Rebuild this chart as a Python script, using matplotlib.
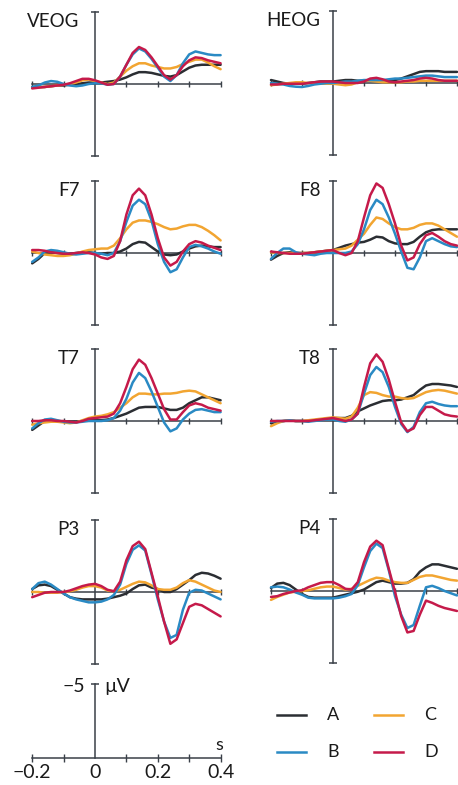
import numpy as np
import matplotlib.pyplot as plt

plt.rcParams['font.family'] = ['Lato', 'DejaVu Sans']

# time grid (s) and ERP amplitudes (µV, negative plotted upwards)
t = np.round(np.arange(-0.2, 0.4001, 0.02), 2)

conditions = ["A", "B", "C", "D"]
colors = {"A": "#2b2e33", "B": "#2a8ac4", "C": "#f2a531", "D": "#c51a4a"}

VEOG = {
    "A": [0.2, 0.2, 0.2, 0.15, 0.1, 0.1, 0.05, 0.0, -0.05, -0.1, -0.1, -0.1, -0.15, -0.2, -0.3, -0.45,
          -0.65, -0.8, -0.8, -0.75, -0.65, -0.55, -0.5, -0.6, -0.85, -1.1, -1.25, -1.3, -1.3, -1.3, -1.3],
    "B": [0.2, 0.1, -0.1, -0.2, -0.15, 0.0, 0.1, 0.15, 0.1, 0.0, -0.05, -0.05, 0.05, 0.0, -0.5, -1.3,
          -2.0, -2.4, -2.2, -1.7, -1.1, -0.5, -0.2, -0.6, -1.4, -2.0, -2.2, -2.1, -2.0, -1.95, -1.95],
    "C": [0.25, 0.22, 0.2, 0.15, 0.1, 0.05, 0.0, -0.1, -0.25, -0.3, -0.2, -0.1, 0.0, -0.1, -0.5, -0.9,
          -1.2, -1.4, -1.4, -1.25, -1.15, -1.05, -1.05, -1.15, -1.35, -1.5, -1.65, -1.65, -1.45, -1.2, -1.0],
    "D": [0.3, 0.25, 0.2, 0.15, 0.1, 0.05, -0.05, -0.2, -0.35, -0.35, -0.25, -0.1, 0.05, 0.0, -0.5, -1.3,
          -2.1, -2.5, -2.3, -1.8, -1.2, -0.6, -0.3, -0.6, -1.2, -1.6, -1.8, -1.75, -1.6, -1.5, -1.4],
}
HEOG = {
    "A": [-0.2, -0.1, 0.0, 0.05, 0.05, 0.05, 0.0, -0.05, -0.1, -0.1, -0.1, -0.15, -0.2, -0.2, -0.15, -0.15,
          -0.2, -0.2, -0.15, -0.15, -0.2, -0.3, -0.45, -0.6, -0.75, -0.8, -0.8, -0.8, -0.75, -0.75, -0.75],
    "B": [0.0, 0.05, 0.1, 0.2, 0.25, 0.27, 0.2, 0.1, 0.05, 0.0, 0.0, -0.05, -0.1, -0.1, -0.15, -0.2,
          -0.2, -0.2, -0.2, -0.25, -0.3, -0.3, -0.35, -0.4, -0.45, -0.5, -0.5, -0.45, -0.4, -0.4, -0.4],
    "C": [0.15, 0.1, 0.05, 0.0, -0.05, -0.05, 0.0, 0.0, 0.05, 0.05, 0.05, 0.1, 0.15, 0.1, -0.05, -0.15,
          -0.15, -0.1, -0.05, -0.05, -0.05, -0.05, -0.1, -0.1, -0.15, -0.15, -0.15, -0.15, -0.15, -0.15, -0.15],
    "D": [0.1, 0.1, 0.05, 0.05, 0.05, 0.05, 0.0, -0.05, -0.1, -0.1, -0.1, -0.05, 0.0, 0.0, 0.0, -0.1,
          -0.3, -0.35, -0.25, -0.1, -0.05, -0.1, -0.15, -0.2, -0.3, -0.35, -0.3, -0.2, -0.15, -0.15, -0.15],
}
F7 = {
    "A": [0.7, 0.4, 0.0, -0.05, 0.0, 0.05, 0.05, 0.0, -0.05, -0.05, 0.0, 0.05, 0.0, 0.0, -0.1, -0.3,
          -0.6, -0.75, -0.7, -0.4, -0.1, 0.1, 0.15, 0.1, -0.1, -0.3, -0.45, -0.5, -0.45, -0.4, -0.4],
    "B": [0.6, 0.3, -0.1, -0.2, -0.15, -0.05, 0.05, 0.1, 0.05, 0.0, 0.0, 0.05, 0.15, 0.0, -0.8, -2.1,
          -3.2, -3.6, -3.3, -2.2, -0.6, 0.6, 1.3, 1.1, 0.3, -0.4, -0.55, -0.45, -0.3, -0.1, 0.05],
    "C": [-0.1, 0.0, 0.1, 0.15, 0.2, 0.2, 0.15, 0.05, -0.1, -0.2, -0.25, -0.3, -0.3, -0.5, -1.0, -1.6,
          -2.05, -2.2, -2.2, -2.1, -1.95, -1.75, -1.6, -1.65, -1.8, -1.9, -1.9, -1.75, -1.5, -1.2, -0.85],
    "D": [-0.2, -0.2, -0.15, -0.05, 0.0, 0.05, 0.05, 0.0, -0.05, 0.0, 0.1, 0.3, 0.4, 0.2, -0.8, -2.6,
          -3.9, -4.35, -3.9, -2.6, -1.0, 0.3, 0.85, 0.6, -0.1, -0.6, -0.8, -0.7, -0.5, -0.35, -0.2],
}
F8 = {
    "A": [0.45, 0.2, 0.0, -0.05, 0.0, 0.0, 0.0, -0.05, -0.1, -0.15, -0.2, -0.35, -0.5, -0.6, -0.7, -0.75,
          -0.9, -1.1, -1.05, -0.8, -0.65, -0.6, -0.6, -0.75, -1.1, -1.4, -1.55, -1.6, -1.6, -1.6, -1.6],
    "B": [0.4, 0.0, -0.3, -0.3, -0.05, 0.05, 0.1, 0.15, 0.05, 0.0, 0.0, 0.0, 0.0, -0.1, -0.6, -1.6,
          -2.9, -3.6, -3.3, -2.4, -1.3, -0.1, 1.0, 1.1, 0.3, -0.8, -1.0, -0.8, -0.6, -0.45, -0.4],
    "C": [-0.05, 0.0, 0.0, 0.0, 0.0, 0.0, 0.0, -0.05, -0.1, -0.15, -0.2, -0.25, -0.3, -0.5, -0.9, -1.3,
          -1.9, -2.4, -2.3, -2.0, -1.75, -1.6, -1.6, -1.7, -1.9, -2.0, -2.0, -1.85, -1.6, -1.35, -1.1],
    "D": [-0.1, -0.05, 0.0, 0.05, 0.05, 0.05, 0.0, -0.05, -0.1, -0.15, -0.2, 0.0, 0.15, 0.0, -0.8, -2.4,
          -3.9, -4.7, -4.4, -3.3, -2.0, -0.5, 0.5, 0.3, -0.6, -1.2, -1.35, -1.1, -0.8, -0.6, -0.5],
}
T7 = {
    "A": [0.6, 0.3, 0.0, -0.05, 0.0, 0.05, 0.05, 0.05, 0.0, -0.05, -0.05, -0.05, -0.1, -0.2, -0.35, -0.5,
          -0.7, -0.9, -0.95, -0.95, -0.95, -0.85, -0.75, -0.75, -0.9, -1.2, -1.4, -1.6, -1.6, -1.5, -1.4],
    "B": [0.5, 0.15, -0.1, -0.15, -0.05, 0.05, 0.1, 0.1, 0.05, 0.0, 0.0, 0.0, -0.05, -0.2, -0.7, -1.5,
          -2.6, -3.25, -2.9, -2.0, -0.95, 0.1, 0.7, 0.5, -0.1, -0.5, -0.75, -0.8, -0.7, -0.6, -0.6],
    "C": [0.25, 0.15, 0.1, 0.05, 0.05, 0.1, 0.15, 0.1, -0.05, -0.2, -0.3, -0.35, -0.45, -0.6, -0.9, -1.2,
          -1.6, -1.85, -1.85, -1.8, -1.8, -1.85, -1.85, -1.9, -2.0, -2.05, -2.0, -1.8, -1.6, -1.4, -1.2],
    "D": [0.0, 0.0, -0.05, -0.05, 0.0, 0.0, 0.05, 0.1, 0.0, -0.15, -0.2, -0.25, -0.3, -0.5, -1.2, -2.3,
          -3.5, -4.15, -3.8, -2.9, -1.85, -0.8, -0.1, -0.1, -0.6, -1.05, -1.2, -1.1, -0.9, -0.8, -0.7],
}
T8 = {
    "A": [0.15, 0.05, 0.0, -0.05, 0.0, 0.0, 0.0, -0.05, -0.1, -0.15, -0.2, -0.2, -0.2, -0.35, -0.65, -0.85,
          -1.05, -1.2, -1.35, -1.4, -1.4, -1.45, -1.6, -1.75, -2.1, -2.4, -2.5, -2.5, -2.45, -2.4, -2.3],
    "B": [0.05, 0.0, 0.0, -0.05, 0.0, 0.0, 0.05, 0.0, -0.05, -0.1, -0.1, 0.0, 0.05, -0.1, -0.5, -1.85,
          -3.1, -3.65, -3.3, -2.3, -0.95, 0.2, 0.75, 0.4, -0.6, -1.2, -1.3, -1.15, -1.05, -1.0, -1.0],
    "C": [0.35, 0.15, 0.0, -0.05, 0.0, 0.0, -0.05, -0.1, -0.15, -0.2, -0.25, -0.2, -0.15, -0.3, -0.9, -1.75,
          -1.95, -1.9, -1.75, -1.65, -1.65, -1.55, -1.5, -1.55, -1.75, -1.95, -2.05, -2.1, -2.05, -1.95, -1.85],
    "D": [0.0, 0.0, 0.0, 0.0, 0.0, 0.0, 0.0, -0.05, -0.1, -0.15, -0.2, -0.1, 0.0, -0.1, -0.5, -2.3,
          -3.9, -4.5, -4.0, -2.8, -1.3, 0.1, 0.7, 0.5, -0.4, -0.95, -0.95, -0.7, -0.45, -0.35, -0.3],
}
P3 = {
    "A": [-0.2, -0.45, -0.5, -0.4, -0.15, 0.1, 0.35, 0.45, 0.5, 0.5, 0.5, 0.5, 0.45, 0.35, 0.25, 0.1,
          -0.2, -0.45, -0.5, -0.3, -0.2, 0.0, 0.0, -0.2, -0.5, -0.8, -1.15, -1.3, -1.25, -1.1, -0.9],
    "B": [-0.2, -0.6, -0.7, -0.5, -0.2, 0.1, 0.35, 0.5, 0.6, 0.7, 0.7, 0.65, 0.5, 0.2, -0.5, -1.9,
          -2.85, -3.15, -2.8, -1.2, 0.5, 2.0, 3.1, 2.9, 1.2, 0.05, -0.15, -0.1, 0.1, 0.3, 0.5],
    "C": [0.0, 0.0, 0.05, 0.05, 0.05, 0.0, -0.05, -0.15, -0.3, -0.4, -0.4, -0.3, -0.1, -0.05, -0.15, -0.35,
          -0.55, -0.7, -0.65, -0.45, -0.2, -0.15, -0.15, -0.3, -0.6, -0.8, -0.7, -0.5, -0.3, -0.1, 0.0],
    "D": [0.35, 0.2, 0.05, 0.0, 0.0, 0.0, -0.1, -0.25, -0.4, -0.5, -0.55, -0.4, -0.15, -0.05, -0.7, -2.15,
          -3.1, -3.4, -2.9, -1.3, 0.3, 2.0, 3.5, 3.2, 2.1, 1.0, 0.8, 0.9, 1.15, 1.4, 1.65],
}
P4 = {
    "A": [-0.2, -0.5, -0.55, -0.4, -0.1, 0.2, 0.4, 0.45, 0.45, 0.45, 0.45, 0.35, 0.25, 0.15, 0.05, -0.1,
          -0.35, -0.6, -0.7, -0.6, -0.5, -0.5, -0.55, -0.8, -1.3, -1.6, -1.8, -1.8, -1.7, -1.6, -1.5],
    "B": [-0.25, -0.3, -0.25, -0.1, 0.1, 0.25, 0.45, 0.5, 0.5, 0.5, 0.5, 0.45, 0.35, 0.2, -0.4, -1.6,
          -2.7, -3.2, -2.9, -1.4, 0.35, 1.6, 2.5, 2.3, 1.0, -0.25, -0.35, -0.2, 0.0, 0.15, 0.3],
    "C": [0.6, 0.4, 0.25, 0.1, 0.05, 0.0, -0.05, -0.15, -0.25, -0.3, -0.3, -0.2, -0.1, -0.15, -0.35, -0.55,
          -0.75, -0.9, -0.85, -0.7, -0.6, -0.55, -0.55, -0.75, -0.95, -1.05, -1.05, -0.95, -0.85, -0.75, -0.7],
    "D": [0.4, 0.35, 0.2, 0.1, 0.0, -0.05, -0.25, -0.4, -0.55, -0.6, -0.6, -0.4, -0.15, -0.1, -0.6, -1.95,
          -3.0, -3.4, -3.1, -1.5, 0.05, 1.7, 2.8, 2.7, 1.6, 0.65, 0.8, 1.0, 1.15, 1.25, 1.35],
}

channels = [("VEOG", VEOG), ("HEOG", HEOG), ("F7", F7), ("F8", F8),
            ("T7", T7), ("T8", T8), ("P3", P3), ("P4", P4)]

# layout in pixels
W, H = 458, 785
PX_PER_UV = 14.8
col_x0 = [95, 333]          # pixel of t = 0
col_k = [314, 310]          # pixels per second
col_xlim = [(-0.24, 0.42), (-0.24, 0.41)]
row_zero = [[84, 253, 421, 592], [83, 253, 421, 591]]
axis_color = "#3a4048"
ylo, yhi = -5.3, 5.3

fig = plt.figure(figsize=(W / 100, H / 100), dpi=100)


def make_axes(col, zero_px):
    t0, t1 = col_xlim[col]
    left = col_x0[col] + t0 * col_k[col]
    right = col_x0[col] + t1 * col_k[col]
    top = zero_px + ylo * PX_PER_UV
    bottom = zero_px + yhi * PX_PER_UV
    ax = fig.add_axes([left / W, 1 - bottom / H, (right - left) / W, (bottom - top) / H])
    ax.set_xlim(t0, t1)
    ax.set_ylim(yhi, ylo)  # negative up
    ax.axis("off")
    return ax


def draw_axes(ax):
    ax.plot([0, 0], [-4.85, 4.85], color=axis_color, lw=1.1, zorder=1)
    ax.plot([0, 0], [-4.85, 4.85], ls="none", marker="_", ms=6, mew=1.1, color=axis_color)
    ax.plot([-0.2, 0.4], [0, 0], color=axis_color, lw=1.1, zorder=1)
    ax.plot([-0.2, -0.1, 0.1, 0.2, 0.3, 0.4], [0] * 6, ls="none", marker="|",
            ms=5, mew=1.0, color=axis_color)


for i, (name, data) in enumerate(channels):
    col, row = i % 2, i // 2
    ax = make_axes(col, row_zero[col][row])
    draw_axes(ax)
    for c in ["A", "C", "B", "D"]:
        ax.plot(t, data[c], color=colors[c], lw=1.8, solid_capstyle="round",
                solid_joinstyle="round", zorder=3)
    lx = -0.05 if col == 0 else -0.04
    ax.text(lx, -4.2, name, ha="right", va="center", fontsize=13.5, color="#1a1a1a")

# scale panel
ax = make_axes(0, 758)
ax.plot([0, 0], [0, -5], color=axis_color, lw=1.1)
ax.plot([0], [-5], ls="none", marker="_", ms=6, mew=1.1, color=axis_color)
ax.plot([-0.2, 0.4], [0, 0], color=axis_color, lw=1.1)
ax.plot([-0.2, -0.1, 0.1, 0.2, 0.3, 0.4], [0] * 6, ls="none", marker="|",
        ms=6, mew=1.0, color=axis_color)
for x, lab in zip([-0.2, 0, 0.2, 0.4], ["\u22120.2", "0", "0.2", "0.4"]):
    ax.text(x, 1.0, lab, ha="center", va="center", fontsize=14, color="#1a1a1a")
ax.text(0.395, -0.85, "s", ha="center", va="center", fontsize=13, color="#1a1a1a")
ax.text(-0.03, -4.8, "\u22125", ha="right", va="center", fontsize=14, color="#1a1a1a")
ax.text(0.03, -4.8, "\u00b5V", ha="left", va="center", fontsize=14, color="#1a1a1a")

# legend
lg = fig.add_axes([0, 0, 1, 1])
lg.set_xlim(0, W)
lg.set_ylim(H, 0)
lg.axis("off")
legend_pos = {"A": (277, 715), "B": (277, 752), "C": (374, 715), "D": (374, 752)}
for c in conditions:
    x, y = legend_pos[c]
    lg.plot([x, x + 29], [y, y], color=colors[c], lw=1.8)
    lg.text(x + 50, y, c, ha="left", va="center", fontsize=13, color="#1a1a1a")

fig.savefig("out.png", dpi=100, facecolor="white")
